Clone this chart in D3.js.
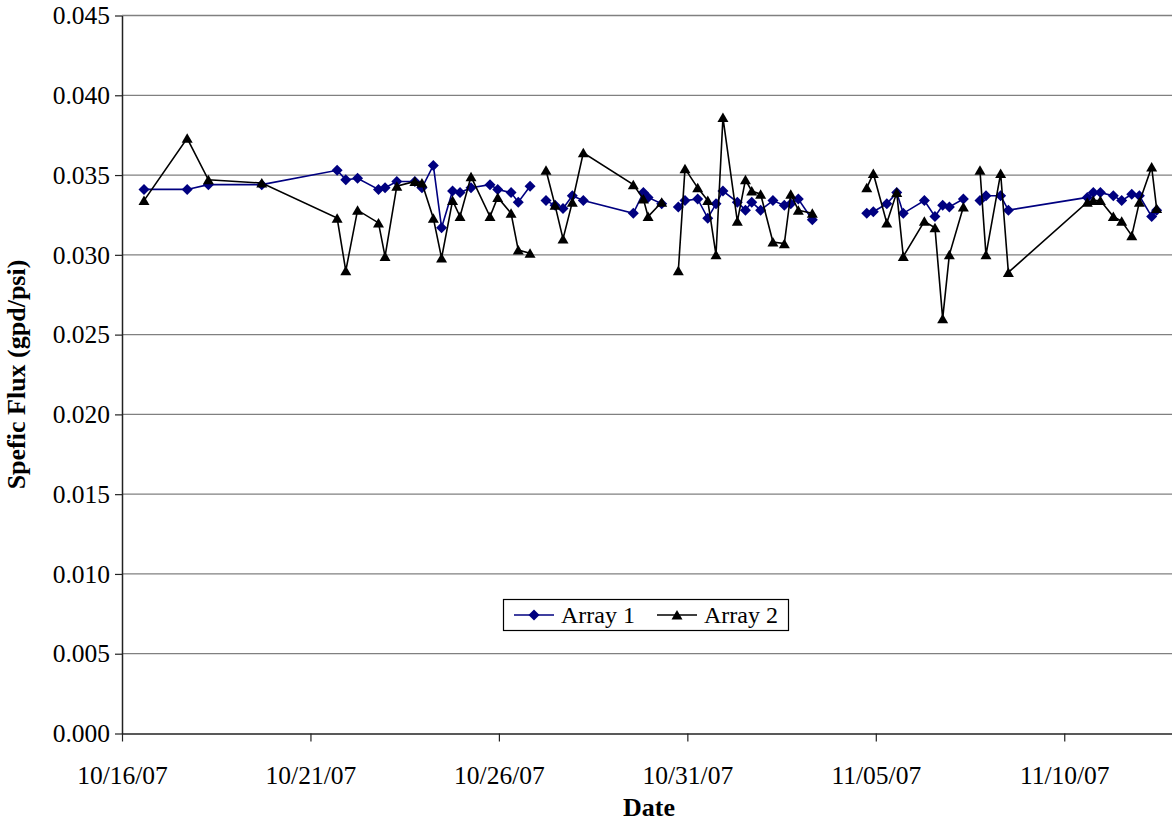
<!DOCTYPE html>
<html>
<head>
    <title>spefic flux</title>
    <script src="https://d3js.org/d3.v7.min.js"></script>
    <style>
        body { margin: 0; background: #fff; }
        svg text { font-family: "Times New Roman", "Liberation Serif", serif; fill: #000; }
    </style>
</head>
<body>
    <svg id="chart" width="1172" height="822"></svg>

    <script>
// sample times, null rows mark the breaks in the lines
var dates = [
  "2007-10-16 14:00", "2007-10-17 17:30", "2007-10-18 07:00", "2007-10-19 17:00",
  "2007-10-21 17:00", "2007-10-21 22:30", "2007-10-22 06:00", "2007-10-22 19:20",
  "2007-10-22 23:30", "2007-10-23 07:00", "2007-10-23 18:30", "2007-10-23 23:00",
  "2007-10-24 06:15", "2007-10-24 11:30", "2007-10-24 18:30", "2007-10-24 23:15",
  "2007-10-25 06:15", "2007-10-25 18:20", "2007-10-25 23:15", "2007-10-26 07:45",
  "2007-10-26 12:20", "2007-10-26 19:50",
  "2007-10-27 00:00",
  "2007-10-27 06:00", "2007-10-27 11:45", "2007-10-27 16:50", "2007-10-27 22:45",
  "2007-10-28 05:45", "2007-10-29 13:35", "2007-10-29 20:00", "2007-10-29 23:00",
  "2007-10-30 07:40",
  "2007-10-30 12:00",
  "2007-10-30 18:15", "2007-10-30 22:30", "2007-10-31 06:35", "2007-10-31 13:00",
  "2007-10-31 18:15", "2007-10-31 22:40", "2007-11-01 07:50", "2007-11-01 13:00",
  "2007-11-01 17:00", "2007-11-01 22:40", "2007-11-02 06:30", "2007-11-02 13:45",
  "2007-11-02 17:50", "2007-11-02 22:40", "2007-11-03 07:35",
  "2007-11-04 00:00",
  "2007-11-04 18:15", "2007-11-04 22:25", "2007-11-05 07:00", "2007-11-05 13:20",
  "2007-11-05 17:30", "2007-11-06 06:55", "2007-11-06 13:40", "2007-11-06 18:35",
  "2007-11-06 22:50", "2007-11-07 07:45",
  "2007-11-07 12:00",
  "2007-11-07 18:20", "2007-11-07 22:10", "2007-11-08 07:30", "2007-11-08 12:25",
  "2007-11-10 14:40", "2007-11-10 18:30", "2007-11-10 23:00", "2007-11-11 07:15",
  "2007-11-11 12:35", "2007-11-11 19:00", "2007-11-11 23:50", "2007-11-12 07:40",
  "2007-11-12 10:50"
];

var array1 = [
  0.0341, 0.0341, 0.0344, 0.0344,
  0.0353, 0.0347, 0.0348, 0.0341,
  0.0342, 0.0346, 0.0346, 0.0342,
  0.0356, 0.0317, 0.0340, 0.0339,
  0.0342, 0.0344, 0.0341, 0.0339,
  0.0333, 0.0343,
  null,
  0.0334, 0.0331, 0.0329, 0.0337,
  0.0334, 0.0326, 0.0339, 0.0336,
  0.0332,
  null,
  0.0330, 0.0334, 0.0335, 0.0323,
  0.0332, 0.0340, 0.0333, 0.0328,
  0.0333, 0.0328, 0.0334, 0.0331,
  0.0332, 0.0335, 0.0322,
  null,
  0.0326, 0.0327, 0.0332, 0.0339,
  0.0326, 0.0334, 0.0324, 0.0331,
  0.0330, 0.0335,
  null,
  0.0334, 0.0337, 0.0337, 0.0328,
  0.0336, 0.0339, 0.0339, 0.0337,
  0.0334, 0.0338, 0.0337, 0.0324,
  0.0328
];

var array2 = [
  0.0334, 0.0373, 0.0347, 0.0345,
  0.0323, 0.0290, 0.0328, 0.0320,
  0.0299, 0.0343, 0.0346, 0.0345,
  0.0323, 0.0298, 0.0334, 0.0324,
  0.0349, 0.0324, 0.0336, 0.0326,
  0.0303, 0.0301,
  null,
  0.0353, 0.0331, 0.0310, 0.0333,
  0.0364, 0.0344, 0.0335, 0.0324,
  0.0333,
  null,
  0.0290, 0.0354, 0.0342, 0.0334,
  0.0300, 0.0386, 0.0321, 0.0347,
  0.0340, 0.0338, 0.0308, 0.0307,
  0.0338, 0.0328, 0.0326,
  null,
  0.0342, 0.0351, 0.0320, 0.0339,
  0.0299, 0.0321, 0.0317, 0.0260,
  0.0300, 0.0330,
  null,
  0.0353, 0.0300, 0.0351, 0.0289,
  0.0333, 0.0334, 0.0334, 0.0324,
  0.0321, 0.0312, 0.0333, 0.0355,
  0.0329
];

var xTickLabels = ["10/16/07", "10/21/07", "10/26/07", "10/31/07", "11/05/07", "11/10/07"];
var xDomain = ["10/16/07", "11/13/07"];
var yTicks = [0, 0.005, 0.010, 0.015, 0.020, 0.025, 0.030, 0.035, 0.040, 0.045];
var seriesNames = ["Array 1", "Array 2"];

var parseTime = d3.utcParse("%Y-%m-%d %H:%M");
var parseTick = d3.utcParse("%m/%d/%y");

var plotLeft = 122, plotTop = 15.5, plotBottom = 733.5;
var dayPx = 37.69;
var plotRight = plotLeft + 28 * dayPx;   // axis runs past the picture edge

var svg = d3.select("#chart");

var x = d3.scaleUtc()
    .domain(xDomain.map(parseTick))
    .range([plotLeft, plotRight]);

var y = d3.scaleLinear()
    .domain([0, 0.045])
    .range([plotBottom, plotTop]);

// gridlines
svg.append("g")
  .selectAll("line")
  .data(yTicks.slice(1))
  .enter().append("line")
    .attr("x1", plotLeft).attr("x2", plotRight)
    .attr("y1", function (d) { return y(d) }).attr("y2", function (d) { return y(d) })
    .attr("stroke", "#808080")
    .attr("stroke-width", 1.3)

// axes
svg.append("g")
    .attr("transform", "translate(" + plotLeft + ",0)")
    .call(d3.axisLeft(y).tickValues(yTicks).tickFormat(d3.format(".3f")).tickSize(7).tickSizeOuter(0).tickPadding(5))

svg.append("g")
    .attr("transform", "translate(0," + plotBottom + ")")
    .call(d3.axisBottom(x).tickValues(xTickLabels.map(parseTick))
        .tickFormat(d3.utcFormat("%m/%d/%y")).tickSize(8).tickSizeOuter(0).tickPadding(24))

svg.selectAll(".domain").attr("stroke", "#222").attr("stroke-width", 1.5)
svg.selectAll(".tick line").attr("stroke", "#222").attr("stroke-width", 1.2)
svg.selectAll(".tick text")
    .attr("font-family", "'Times New Roman', 'Liberation Serif', serif")
    .attr("font-size", 25.5)
    .attr("fill", "#000")

// axis titles
svg.append("text")
    .attr("x", 649).attr("y", 816)
    .attr("text-anchor", "middle")
    .attr("font-size", 26).attr("font-weight", "bold")
    .text("Date")

svg.append("text")
    .attr("transform", "translate(25," + ((plotTop + plotBottom) / 2) + ") rotate(-90)")
    .attr("text-anchor", "middle")
    .attr("font-size", 26).attr("font-weight", "bold")
    .text("Spefic Flux (gpd/psi)")

var diamond = "M0,-5.5L5.5,0L0,5.5L-5.5,0Z";
var triangle = "M0,-5L5.5,4.5L-5.5,4.5Z";

function drawSeries(values, colour, marker) {
  var pts = dates.map(function (d, i) { return { t: parseTime(d), v: values[i] } });

  var line = d3.line()
      .defined(function (d) { return d.v !== null })
      .x(function (d) { return x(d.t) })
      .y(function (d) { return y(d.v) });

  svg.append("path")
      .datum(pts)
      .attr("d", line)
      .attr("fill", "none")
      .attr("stroke", colour)
      .attr("stroke-width", 1.6)

  svg.append("g")
    .selectAll("path")
    .data(pts.filter(function (d) { return d.v !== null }))
    .enter().append("path")
      .attr("d", marker)
      .attr("transform", function (d) { return "translate(" + x(d.t) + "," + y(d.v) + ")" })
      .attr("fill", colour)
}

drawSeries(array1, "#000080", diamond)
drawSeries(array2, "#000000", triangle)

// legend
var legend = svg.append("g")
legend.append("rect")
    .attr("x", 503.5).attr("y", 599.5).attr("width", 285).attr("height", 31)
    .attr("fill", "#fff").attr("stroke", "#000").attr("stroke-width", 1.2)

var legendItems = [
  { name: seriesNames[0], colour: "#000080", marker: diamond, x0: 514 },
  { name: seriesNames[1], colour: "#000000", marker: triangle, x0: 657 }
];

legendItems.forEach(function (item) {
  legend.append("line")
      .attr("x1", item.x0).attr("x2", item.x0 + 40)
      .attr("y1", 615).attr("y2", 615)
      .attr("stroke", item.colour).attr("stroke-width", 1.6)
  legend.append("path")
      .attr("d", item.marker)
      .attr("transform", "translate(" + (item.x0 + 20) + ",615)")
      .attr("fill", item.colour)
  legend.append("text")
      .attr("x", item.x0 + 47).attr("y", 623)
      .attr("font-size", 24)
      .text(item.name)
})
    </script>
</body>
</html>
